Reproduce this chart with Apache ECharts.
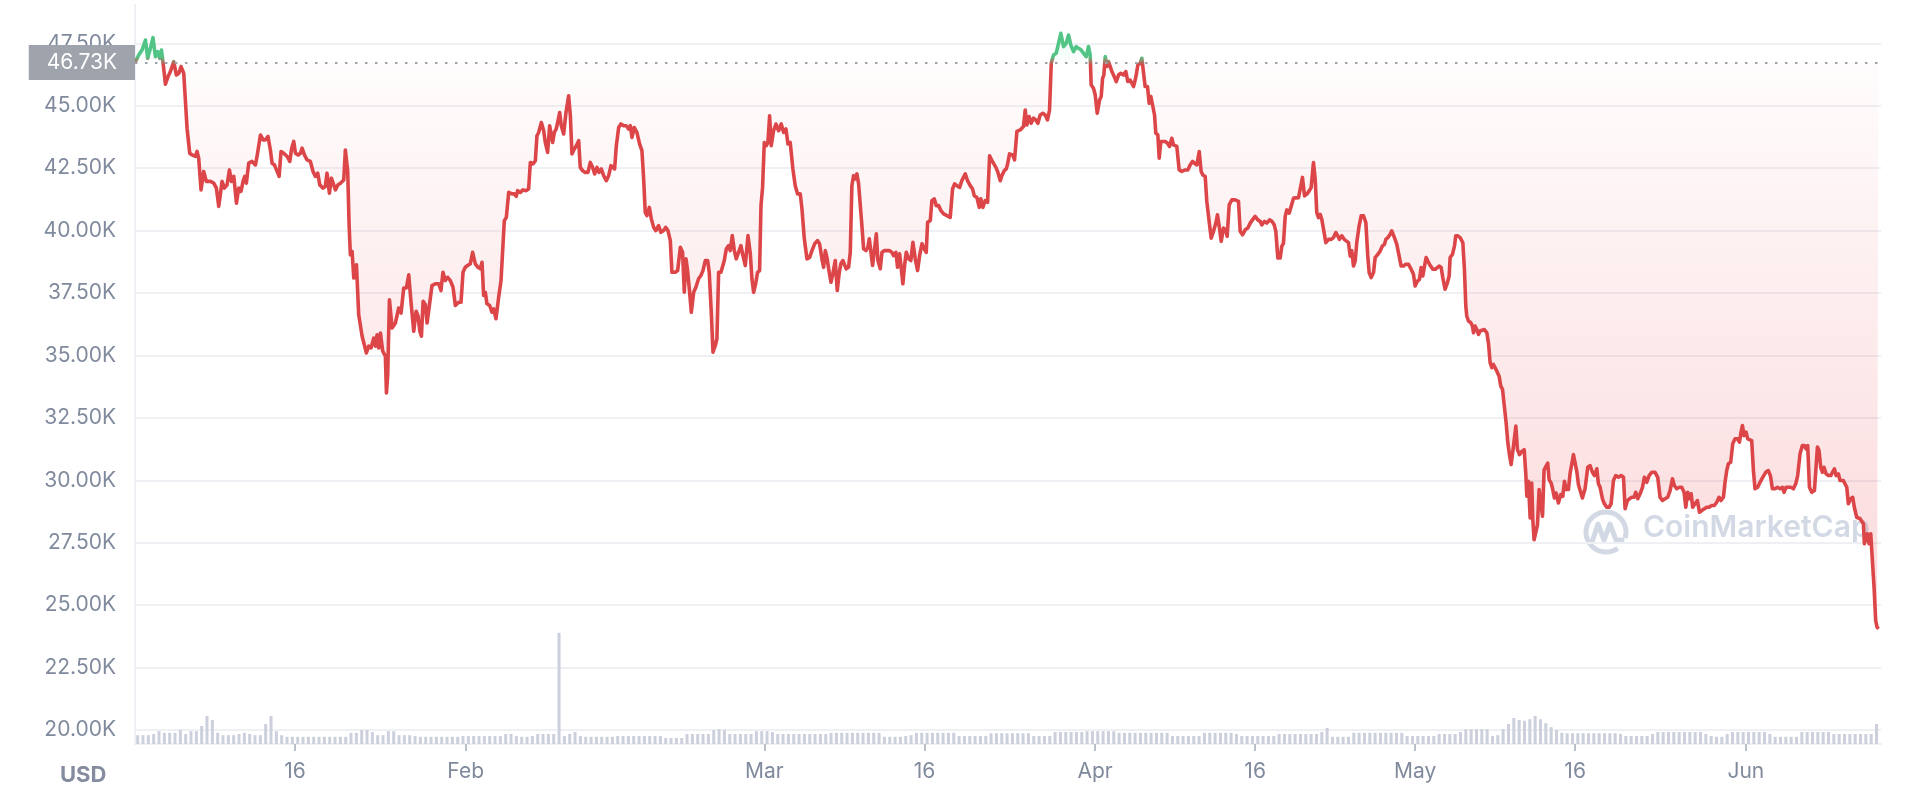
<!DOCTYPE html>
<html><head><meta charset="utf-8">
<script src="https://cdn.jsdelivr.net/npm/echarts@6/dist/echarts.min.js"></script>
<style>html,body{margin:0;padding:0;background:#fff}#c{width:1908px;height:790px}</style>
</head><body><div id="c"></div>
<script>
// days since 2022-01-01 00:00 (UTC)
const dayOffsets = [
0,0.35,0.66,0.98,1.19,1.44,1.69,1.91,2.13,2.32,2.48,2.69,2.85,3.10,3.32,3.63,3.88,4.10,4.32,4.57,4.73,4.88,5.13,5.35,5.66,5.82,5.97,6.19,6.44,6.69,7.07,7.38,7.63,7.85,8.16,8.38,8.63,8.85,9.04,9.26,9.51,9.72,9.94,10.13,10.29,10.44,10.66,10.97,11.29,11.44,11.76,12.01,12.22,12.47,12.69,12.85,13.07,13.32,13.51,13.69,13.94,14.26,14.51,14.69,14.88,15.04,15.29,15.51,15.66,15.88,16.13,16.44,16.69,16.91,17.13,17.32,17.63,17.84,18.00,18.22,18.41,18.63,18.79,19.01,19.26,19.57,19.72,19.94,20.07,20.19,20.35,20.51,20.76,20.97,21.29,21.44,21.69,21.91,22.13,22.38,22.54,22.69,22.85,23.01,23.22,23.47,23.57,23.69,23.85,24.10,24.41,24.72,24.94,25.19,25.44,25.66,25.88,26.13,26.35,26.54,26.70,26.85,27.01,27.22,27.38,
27.84,28.15,28.47,28.68,28.87,29.09,29.31,29.56,29.81,30.03,30.34,30.56,30.75,30.96,31.18,31.43,31.65,31.90,32.15,32.37,32.53,32.68,32.84,32.99,33.25,33.46,33.62,33.84,34.09,34.31,34.49,34.62,34.81,35.03,35.34,35.56,35.74,35.87,36.12,36.37,36.68,36.90,37.06,37.31,37.53,37.68,37.84,38.09,38.31,38.46,38.68,38.87,39.03,39.15,39.31,39.49,39.62,39.81,39.96,40.18,40.40,40.65,40.81,40.96,41.18,41.37,41.59,41.74,41.96,42.21,42.46,42.68,42.90,43.09,43.31,43.49,43.71,43.93,44.18,44.40,44.62,44.80,44.96,45.12,45.34,45.55,45.80,46.05,46.27,46.43,46.59,46.80,47.05,47.30,47.52,47.68,47.83,47.99,48.21,48.40,48.62,48.83,49.08,49.30,49.55,49.74,49.96,50.18,50.33,50.65,50.87,51.12,51.33,51.49,51.65,51.80,51.99,52.15,52.37,52.58,52.83,53.05,53.24,53.46,53.68,53.83,54.02,54.18,54.40,54.55,54.71,54.93,
55.02,55.24,55.43,55.65,55.80,55.99,56.18,56.36,56.58,56.80,56.99,57.21,57.46,57.68,57.83,57.99,58.18,58.36,58.55,58.68,58.83,58.99,59.18,59.33,59.49,59.64,59.86,60.08,60.33,60.58,60.80,61.02,61.21,61.42,61.67,61.89,62.11,62.36,62.52,62.74,62.99,63.24,63.46,63.71,63.99,64.17,64.39,64.55,64.71,64.86,65.02,65.24,65.42,65.64,65.83,66.02,66.17,66.36,66.52,66.67,66.89,67.05,67.20,67.36,67.52,67.67,67.83,67.99,68.14,68.30,68.52,68.70,68.83,68.99,69.14,69.33,69.49,69.64,69.86,70.02,70.23,70.48,70.73,70.95,71.11,71.33,71.48,71.67,71.83,71.98,72.14,72.30,72.52,72.73,72.92,73.14,73.36,73.55,73.77,73.98,74.17,74.30,74.55,74.70,74.92,75.11,75.33,75.55,75.80,76.11,76.42,76.64,76.83,77.05,77.30,77.51,77.83,78.04,78.29,78.51,78.67,78.92,79.14,79.29,79.48,79.70,79.92,80.11,80.33,80.48,80.70,80.89,81.11,81.26,81.48,81.67,81.80,81.98,
82.26,82.45,82.67,82.98,83.29,83.45,83.60,83.82,84.01,84.23,84.45,84.64,84.85,85.10,85.32,85.54,85.73,85.89,86.10,86.35,86.57,86.79,87.04,87.29,87.51,87.73,87.98,88.23,88.45,88.70,88.92,89.17,89.38,89.54,89.63,89.85,90.01,90.20,90.42,90.57,90.70,90.82,90.95,91.10,91.26,91.42,91.57,91.79,91.98,92.20,92.41,92.66,92.88,93.07,93.29,93.45,93.60,93.76,93.85,94.01,94.23,94.38,94.54,94.69,94.91,95.07,95.23,95.38,95.57,95.69,95.88,96.01,96.16,96.35,96.57,96.79,96.98,97.19,97.35,97.51,97.66,97.88,98.13,98.44,98.69,98.91,99.13,99.32,99.54,99.76,99.94,100.10,100.32,100.47,100.69,100.88,101.10,101.32,101.47,101.66,101.82,102.04,102.25,102.38,102.57,102.82,103.13,103.44,103.60,103.82,104.07,104.32,104.54,104.75,105.00,105.25,105.47,105.63,105.88,106.10,106.35,106.57,106.79,106.94,107.13,107.35,107.50,107.66,107.82,107.97,108.19,108.38,108.60,
108.75,109.07,109.22,109.44,109.63,109.85,110.07,110.25,110.47,110.63,110.78,110.94,111.10,111.25,111.41,111.63,111.88,112.13,112.35,112.57,112.75,112.91,113.13,113.35,113.53,113.75,113.91,114.06,114.22,114.38,114.53,114.75,114.94,115.16,115.38,115.56,115.69,115.88,116.10,116.25,116.50,116.72,116.94,117.13,117.25,117.44,117.66,117.81,118.06,118.28,118.50,118.69,118.91,119.13,119.38,119.63,119.84,120.00,120.22,120.41,120.56,120.72,120.88,121.03,121.19,121.34,121.50,121.66,121.88,122.03,122.25,122.44,122.59,122.81,123.03,123.19,123.28,123.50,123.69,123.81,124.00,124.22,124.47,124.62,124.75,124.84,125.00,125.22,125.37,125.47,125.62,125.78,125.94,126.09,126.25,126.47,126.72,126.87,127.03,127.19,127.34,127.50,127.66,127.87,128.03,128.19,128.37,128.53,128.69,128.84,129.00,129.22,129.44,129.59,129.78,130.00,130.22,130.37,130.47,130.62,130.78,130.93,131.03,131.15,131.31,131.47,131.62,131.78,131.94,132.09,132.25,132.43,132.56,132.75,132.90,133.06,133.22,133.43,133.65,133.84,134.00,134.15,134.37,134.53,134.68,134.84,135.00,135.15,135.31,135.47,135.68,
135.93,136.18,136.40,136.62,136.81,137.03,137.18,137.34,137.56,137.74,137.96,138.18,138.37,138.59,138.81,139.06,139.31,139.53,139.68,139.90,140.09,140.31,140.52,140.68,140.87,141.09,141.31,141.49,141.71,141.93,142.18,142.49,142.74,142.96,143.18,143.43,143.68,143.90,144.12,144.30,144.52,144.77,144.99,145.21,145.37,145.55,145.71,145.87,146.02,146.24,146.46,146.65,146.87,147.12,147.33,147.55,147.80,148.05,148.27,148.49,148.67,148.90,149.05,149.21,149.36,149.58,149.77,149.99,150.24,150.40,150.55,150.68,150.83,151.02,151.18,151.33,151.55,151.71,151.86,152.11,152.33,152.58,152.86,153.11,153.30,153.49,153.74,153.96,154.21,154.43,154.58,154.77,154.99,155.21,155.46,155.68,155.86,156.08,156.30,156.49,156.65,156.80,156.96,157.18,157.43,157.55,157.71,157.86,158.02,158.18,158.33,158.52,158.74,158.96,159.14,159.30,159.46,159.67,159.83,159.99,160.14,160.30,160.46,160.61,160.83,161.02,161.17,161.39,161.55,161.71,161.86,162.02,162.11,162.27,162.39,162.55,162.71,162.86,163.02,163.17,163.30,163.44
];
const prices = [
46730,47033,47233,47633,46900,47300,47727,46967,47167,46900,47233,46500,45860,46170,46370,46767,46230,46300,46570,46300,46230,44100,43100,43030,42970,43170,42900,41630,42370,41970,41970,41900,41700,40970,41970,41700,41830,42430,41970,42170,41100,41700,41570,41970,42170,41900,42700,42770,42630,42970,43830,43630,43630,43770,43230,42700,42630,42370,42170,43170,43100,42970,42770,43300,43570,43100,43030,43100,43300,43030,42830,42770,42370,42170,42300,41830,41700,41770,42300,41500,42100,41830,41630,41830,41900,42030,43230,42370,40230,39030,39170,38100,38630,36630,35770,35770,35100,35370,35300,35700,35370,35830,35300,35900,35170,34970,33500,34230,37230,36100,36300,36900,36700,37700,37700,38230,37100,35970,36770,36570,35970,35770,37170,37030,36300,
37800,37870,37870,37600,38330,38000,38130,38000,37730,37000,37130,37130,38330,38530,38600,38670,39130,38670,38530,38470,38730,37400,37530,37070,37000,36730,36870,36470,37330,38000,38000,40400,40530,41530,41470,41470,41370,41600,41530,41630,41600,41670,42730,42670,42800,43800,43930,44330,44000,43530,43130,44200,44200,43530,43930,44070,44330,44730,44200,43870,44730,45400,44600,43070,43270,43400,43600,42530,42400,42330,42330,42730,42530,42270,42530,42330,42470,42200,42000,42200,42600,42670,42470,43400,44130,44270,44200,44200,44070,44200,43730,44130,43930,43470,43200,42070,40730,40600,40930,40470,40130,40000,40200,39930,40000,40130,40000,39600,38330,38330,38400,39330,39130,37530,38870,38400,37530,36730,37530,37730,38070,38200,38400,38800,38800,38330,36730,35130,35400,35670,38330,38330,
38400,38800,39270,39400,39200,39800,39200,38870,39130,39400,39000,38600,39800,39070,38070,37530,37870,38330,38400,41000,41730,43530,43400,43530,44600,43400,44000,44270,44000,44270,43930,44070,43470,43530,42470,41800,41470,41470,40870,39670,38870,38930,39200,39470,39600,39470,38870,38530,39200,38930,38470,37930,38270,38800,37600,38330,38670,38800,38800,38470,38530,39130,41800,42200,42070,42270,41870,41800,40200,39270,39200,39330,39670,39130,38600,39270,39870,38800,38470,39130,39200,39200,39200,39130,39000,39130,38530,39070,38470,37870,38600,39130,38870,38800,39530,38870,38400,39000,39470,39270,39130,40330,40400,41200,41270,41000,41000,40800,40670,40600,40530,41670,41870,41800,41730,42000,42270,42000,41800,41670,41400,41330,40930,41270,40930,41200,41130,43000,42800,42870,42530,42330,42000,42200,42400,42470,42670,43070,
43030,42830,43970,44030,44170,44830,44230,44570,44300,44500,44430,44300,44630,44700,44630,44430,44830,46700,47030,47100,47500,47900,47370,47500,47830,47430,47170,47370,47300,47230,47100,46970,47370,47030,45830,45700,45430,44700,45230,45370,46100,46230,46970,46570,46770,46570,46370,46170,45970,46230,46300,46230,46370,45970,46030,45970,45770,46030,46230,46630,46700,46900,46830,45770,45770,45100,45370,45300,44630,43900,43830,42900,43570,43570,43570,43500,43370,43700,43430,43430,43370,42430,42370,42430,42430,42630,42770,42700,42630,43170,42370,42230,42170,41170,40370,39700,39970,40300,40630,40100,39570,40100,40030,39770,41030,41230,41230,41170,39970,39830,40030,40100,40300,40430,40570,40430,40370,40230,40370,40300,40430,40370,40230,39970,38900,38900,39370,39500,40570,40830,40700,40970,41300,
41320,41320,41390,42130,41390,41460,41590,41720,42730,42060,40720,40520,40650,40450,40450,39520,39650,39650,39720,39920,39790,39650,39790,39650,39590,39520,38980,39190,38580,38780,39520,40190,40590,40590,40320,38980,38320,38120,38320,38920,39050,39180,39390,39450,39650,39720,39850,39990,39720,39450,38980,38580,38580,38650,38650,38450,38250,37780,37980,38050,38520,38180,38580,38920,38920,38650,38580,38450,38450,38520,38580,38520,38120,37650,37920,38180,38920,39050,39390,39790,39790,39720,39520,38450,36980,36580,36380,36310,36180,35910,36180,36040,35840,35980,36040,36040,35910,35510,34710,34510,34640,34640,34370,34170,33770,33640,33640,32300,31500,31030,30630,31370,32170,31230,31030,31160,31230,30290,29360,29960,28490,29890,28420,27620,27690,28220,29630,29700,28560,30420,30420,30690,30030,29890,29630,29290,29490,29090,29430,29360,29960,29630,29630,30290,30290,31030,31030,30360,29820,29760,29290,
29660,30520,30590,30320,30190,30460,29860,29720,29260,29060,28920,28920,29060,29990,30190,30120,30190,30120,28860,29190,29260,29320,29320,29520,29260,29460,29720,30120,29920,30190,30320,30320,30120,29320,29190,29260,29320,29590,30060,29790,29660,29720,29720,29520,28920,29520,29260,29460,28920,29060,29190,28720,28790,28860,28920,28920,28990,28990,29120,29320,29190,29320,29920,30390,30660,30720,31460,31660,31660,31530,31930,32190,31790,31930,31660,31730,31590,30390,29660,29720,29920,30120,30320,30390,30190,29660,29660,29720,29660,29720,29520,29720,29720,29720,29660,29860,30190,31060,31390,31390,31260,31390,29720,29520,29590,29520,31330,31190,30520,30320,30520,30260,30190,30190,30260,30460,30190,30260,29990,30060,29990,29990,29720,29060,29260,29320,28920,28520,28460,28460,28520,28260,27460,27460,27860,27460,27860,26790,25720,24390,24120,24050
];
// 24h volume (billion USD), one value per half day starting 2022-01-01
const volumes = [
22,22,22,25,32,28,28,28,35,25,32,32,45,70,60,28,22,22,22,25,
28,25,22,22,50,70,32,22,18,18,18,18,18,18,18,18,18,18,18,18,
28,28,35,35,30,22,22,32,32,22,22,22,20,18,18,18,18,18,18,18,
18,20,20,20,20,20,20,20,20,25,25,20,18,18,20,25,25,25,25,278,
20,25,30,20,18,18,18,18,18,18,20,20,20,20,20,20,20,20,20,15,
15,15,15,25,25,25,25,25,35,37,35,25,25,25,25,25,32,32,32,30,
25,25,25,25,25,25,25,25,25,25,28,28,28,28,28,28,28,28,28,28,
18,18,18,18,20,22,28,28,28,28,28,28,28,28,20,20,20,20,20,20,
27,27,27,27,27,27,27,27,20,20,20,20,30,30,30,30,30,30,32,32,
32,32,32,32,28,28,28,28,28,28,28,28,28,28,20,20,20,20,20,20,
28,28,28,28,28,28,25,20,20,20,20,20,20,20,25,25,25,25,25,25,
25,25,30,40,18,18,18,18,28,28,28,28,28,28,28,28,28,28,20,20,
20,20,20,20,25,25,25,25,30,37,37,37,37,37,20,22,37,50,65,60,
58,62,70,62,52,42,35,28,27,27,27,27,27,27,27,27,27,27,25,20,
20,20,20,20,25,30,30,30,30,30,30,30,30,30,25,20,18,18,25,30,
30,30,30,30,30,30,25,18,18,18,18,18,30,30,30,30,30,30,25,25,
25,25,25,25,25,25,50
];
const tickDays = [15, 31, 59, 74, 90, 105, 120, 135, 151];
const tickLabels = ['16', 'Feb', 'Mar', '16', 'Apr', '16', 'May', '16', 'Jun'];
const baseline = prices[0];

const chart = echarts.init(document.getElementById('c'), null, {renderer: 'canvas'});
const priceData = dayOffsets.map((d, i) => [d, prices[i]]);
const volData = volumes.map((v, i) => [i * 0.5 + 0.25, v]);
const maxP = Math.max(...prices), minP = Math.min(...prices);
const off = (maxP - baseline) / (maxP - minP);
const FONT = 'Inter, "Noto Sans", sans-serif';
const XMAX = 163.67;
const GREEN = '#52c486', RED = '#dc4649';
const FS = 21;

chart.setOption({
  backgroundColor: '#ffffff',
  animation: false,
  textStyle: {fontFamily: FONT},
  title: {text: 'USD', left: 55, top: 759, textStyle: {fontSize: 22, fontWeight: 'bold', color: '#858ca0', fontFamily: FONT}},
  grid: [
    {left: 135, right: 27, top: 5, bottom: 60},
    {left: 135, right: 27, bottom: 46, height: 120}
  ],
  xAxis: [
    {gridIndex: 0, type: 'value', min: 0, max: XMAX, show: false},
    {gridIndex: 1, type: 'value', min: 0, max: XMAX,
      axisLine: {show: true, lineStyle: {color: '#eef0f4', width: 2}},
      axisTick: {show: true, customValues: tickDays, length: 7, lineStyle: {color: '#a6acb8', width: 1.5}},
      axisLabel: {show: true, customValues: tickDays, margin: 17, fontSize: FS, color: '#808a9d', fontFamily: FONT,
        formatter: v => { const k = tickDays.indexOf(v); return k >= 0 ? tickLabels[k] : ''; }},
      splitLine: {show: false}}
  ],
  yAxis: [
    {gridIndex: 0, type: 'value', min: 20000, max: 49035, interval: 2500,
      axisLine: {show: true, lineStyle: {color: '#eef0f4', width: 2}},
      axisTick: {show: false},
      axisLabel: {margin: 19, fontSize: FS, color: '#808a9d', fontFamily: FONT, showMaxLabel: false,
        formatter: v => (v / 1000).toFixed(2) + 'K'},
      splitLine: {show: true, showMaxLine: false, lineStyle: {color: '#eff0f4', width: 2}}},
    {gridIndex: 1, type: 'value', min: 0, max: 300, show: true,
      axisLine: {show: true, lineStyle: {color: '#eef0f4', width: 2}},
      axisTick: {show: false}, axisLabel: {show: false}, splitLine: {show: false}}
  ],
  series: [
    {type: 'line', xAxisIndex: 0, yAxisIndex: 0, data: priceData, showSymbol: false, symbol: 'none', z: 3,
      lineStyle: {width: 3.6, join: 'round', color: {type: 'linear', x: 0, y: 0, x2: 0, y2: 1, colorStops: [
        {offset: 0, color: GREEN}, {offset: Math.max(0, off - 0.006), color: GREEN},
        {offset: Math.min(1, off + 0.008), color: RED}, {offset: 1, color: RED}]}},
      areaStyle: {origin: baseline, color: {type: 'linear', x: 0, y: 0, x2: 0, y2: 1, colorStops: [
        {offset: 0, color: 'rgba(22,199,132,0.16)'},
        {offset: off, color: 'rgba(22,199,132,0.02)'},
        {offset: off, color: 'rgba(234,57,67,0.02)'},
        {offset: 1, color: 'rgba(234,57,67,0.28)'}]}},
      markLine: {symbol: 'none', silent: true, animation: false,
        lineStyle: {color: '#9ea3ad', type: [2.5, 7.5], width: 2},
        label: {position: 'start', distance: 0, formatter: () => (baseline / 1000).toFixed(2) + 'K',
          backgroundColor: '#9fa3ac', color: '#ffffff', fontSize: FS, fontFamily: FONT, padding: [7, 18, 7, 18]},
        data: [{yAxis: baseline}]}},
    {type: 'bar', xAxisIndex: 1, yAxisIndex: 1, data: volData, barWidth: 3,
      itemStyle: {color: '#cbd0dc'}, z: 1}
  ],
  graphic: [
    {type: 'arc', shape: {cx: 1606, cy: 532, r: 20, startAngle: Math.PI * 0.3, endAngle: Math.PI * 2.1}, style: {stroke: '#d3d9e4', lineWidth: 5, fill: null}, z: 0},
    {type: 'polyline', shape: {points: [[1592, 542], [1598, 524], [1604, 540], [1610, 524], [1616, 540], [1622, 540]]}, style: {stroke: '#d3d9e4', lineWidth: 5, fill: null, lineJoin: 'round', lineCap: 'round'}, z: 0},
    {type: 'text', left: 1643, top: 513, style: {text: 'CoinMarketCap', fill: '#d3d9e4', font: '600 30px Inter, sans-serif'}, z: 0}
  ]
});
</script></body></html>
